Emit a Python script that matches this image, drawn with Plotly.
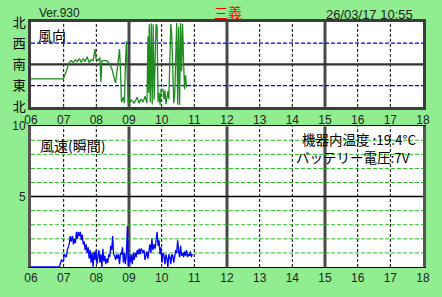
import plotly.graph_objects as go

# ---------------- data ----------------
hour_ticks = list(range(6, 19))
hour_labels = ["%02d" % h for h in hour_ticks]

dir_tickvals = [0, 90, 180, 270, 360]
dir_ticktext = ["北", "東", "南", "西", "北"]

spd_tickvals = [5, 10]
spd_ticktext = ["5", "10"]

# wind direction (degrees, 0 = north at bottom, 360 = north at top)
dir_time = [6.00, 6.96, 7.02, 7.11, 7.17, 7.23, 7.30, 7.36, 7.42, 7.48, 7.54, 7.60, 7.66, 7.72,
            7.78, 7.84, 7.90, 7.96, 7.99, 8.05, 8.11, 8.14, 8.17, 8.23, 8.32, 8.38, 8.47, 8.56,
            8.59, 8.65, 8.71, 8.74, 8.77, 8.83, 8.86, 8.89, 8.92, 8.95, 8.98, 9.07, 9.16, 9.25,
            9.31, 9.37, 9.43, 9.49, 9.55, 9.58, 9.60, 9.62, 9.65, 9.68, 9.71, 9.74, 9.77, 9.80,
            9.83, 9.86, 9.89, 9.92, 9.95,
            9.98, 10.04, 10.07, 10.10, 10.13, 10.19, 10.22, 10.25, 10.28, 10.31, 10.34, 10.37,
            10.40, 10.43, 10.46, 10.49, 10.52, 10.55, 10.58, 10.61, 10.64, 10.67, 10.70, 10.73,
            10.76]
dir_deg = [119, 119, 127, 164, 188, 196, 188, 200, 192, 205, 188, 205, 192, 213,
           188, 200, 196, 245, 205, 196, 209, 106, 196, 196, 196, 188, 164, 115,
           102, 172, 245, 155, 20, 41, 16, 180, 278, 115, 12, 29, 16, 41,
           16, 33, 20, 45, 16, 300, 60, 350, 20, 355, 10, 350, 30, 200,
           352, 340, 20, 60, 8,
           74, 74, 33, 70, 12, 66, 33, 217, 352, 300, 196, 16,
           53, 258, 356, 10, 340, 8, 356, 150, 352, 196, 74, 135,
           82]

# instantaneous wind speed (m/s)
spd_time = [6.00, 6.87, 6.93, 6.99, 7.02, 7.08, 7.11, 7.17, 7.20, 7.23, 7.27, 7.30, 7.33, 7.36,
            7.39, 7.42, 7.45, 7.48, 7.51, 7.54, 7.57, 7.60, 7.63, 7.66, 7.69, 7.72, 7.75, 7.78,
            7.81, 7.84, 7.87, 7.90, 7.93, 7.96, 7.99, 8.02, 8.05, 8.08, 8.11, 8.14, 8.17, 8.20,
            8.23, 8.26, 8.29, 8.32, 8.35, 8.38, 8.41, 8.44, 8.47, 8.50, 8.53, 8.56, 8.59, 8.62,
            8.65, 8.68, 8.71, 8.74, 8.77, 8.80, 8.83, 8.86, 8.89, 8.92, 8.95, 8.98, 9.01, 9.04,
            9.07, 9.10, 9.13, 9.16, 9.19, 9.22, 9.25, 9.28, 9.31, 9.34, 9.37, 9.40, 9.43, 9.46,
            9.49, 9.52, 9.55, 9.58, 9.61, 9.64, 9.67, 9.70, 9.73, 9.76, 9.80, 9.83, 9.86, 9.89,
            9.92, 9.95, 9.98, 10.01, 10.04, 10.07, 10.10, 10.13, 10.16, 10.19, 10.22, 10.25,
            10.28, 10.31, 10.34, 10.37, 10.40, 10.43, 10.46, 10.49, 10.52, 10.55, 10.58, 10.61,
            10.64, 10.67, 10.70, 10.73, 10.76, 10.79, 10.82, 10.85, 10.88, 10.91, 10.94]
spd_val = [0.0, 0.0, 0.5, 0.4, 0.9, 0.7, 1.2, 1.6, 2.2, 1.8, 2.2, 1.6, 2.0, 1.7,
           2.5, 2.0, 2.5, 2.2, 2.5, 1.9, 2.3, 1.6, 1.8, 1.2, 1.6, 1.0, 1.4, 0.6,
           1.2, 0.3, 1.0, 0.0, 1.1, 0.5, 1.2, 0.2, 0.8, 1.2, 0.3, 0.9, 0.0, 1.3,
           0.4, 0.8, 0.2, 0.6, 0.3, 0.9, 0.7, 1.5, 1.2, 2.2, 0.9, 0.8, 0.5, 0.9,
           0.6, 0.9, 0.2, 1.0, 0.9, 1.4, 0.3, 1.0, 0.2, 0.9, 2.9, 0.1, 0.8, 0.3,
           0.9, 0.2, 1.0, 0.5, 1.0, 0.7, 1.2, 0.9, 1.3, 0.9, 1.3, 1.2, 1.0, 1.2,
           0.5, 0.8, 1.1, 0.6, 1.2, 1.6, 1.0, 2.0, 1.2, 1.6, 1.3, 2.1, 2.5, 1.5,
           1.9, 0.9, 1.4, 0.3, 1.0, 0.8, 0.2, 0.9, 0.6, 0.0, 0.9, 0.7,
           0.2, 0.9, 0.8, 0.3, 0.9, 1.2, 1.0, 1.9, 1.1, 0.7, 1.5, 0.8,
           1.0, 0.7, 1.1, 0.8, 1.2, 0.7, 0.9, 0.8, 1.1, 0.7, 0.9]

station = "三義"
version = "Ver.930"
stamp = "26/03/17 10:55"
dir_title = "風向"
spd_title = "風速(瞬間)"
temp_text = "機器内温度 :19.4°C"
batt_text = "バッテリー電圧:7V"

# ---------------- layout helpers ----------------
W, H = 442, 297
L, R, T, B = 29, 15, 20, 23
PW, PH = W - L - R, H - T - B


def fx(x):
    return (x - L) / PW


def fy(y):
    return 1 - (y - T) / PH


FONT = "Liberation Sans, Arial, Noto Sans CJK JP, sans-serif"
JFONT = "Noto Sans CJK JP, sans-serif"

fig = go.Figure()
fig.add_trace(go.Scatter(x=dir_time, y=dir_deg, xaxis="x", yaxis="y", mode="lines",
                         line=dict(color="#1e8c1e", width=1.3), hoverinfo="skip"))
fig.add_trace(go.Scatter(x=spd_time, y=spd_val, xaxis="x2", yaxis="y2", mode="lines",
                         line=dict(color="#0000ff", width=1.3), hoverinfo="skip"))

shapes = []
# vertical grid lines
for h in hour_ticks[1:-1]:
    major = (h % 3 == 0)
    for xr, yr, y0, y1 in (("x", "y", 0, 360), ("x2", "y2", 0, 10)):
        if major:
            line = dict(color="#4a4a4a", width=3)
        else:
            line = dict(color="black", width=1, dash="3px,2px")
        shapes.append(dict(type="line", xref=xr, yref=yr, x0=h, x1=h, y0=y0, y1=y1,
                           line=line, layer="below"))
# horizontal grid, direction
for v in (90, 270):
    shapes.append(dict(type="line", xref="x", yref="y", x0=6, x1=18, y0=v, y1=v,
                       line=dict(color="#0000ee", width=1.2, dash="4px,2px"), layer="below"))
shapes.append(dict(type="line", xref="x", yref="y", x0=6, x1=18, y0=180, y1=180,
                   line=dict(color="#303030", width=2.2), layer="below"))
# horizontal grid, speed
for v in (1, 2, 3, 4, 6, 7, 8, 9):
    shapes.append(dict(type="line", xref="x2", yref="y2", x0=6, x1=18, y0=v, y1=v,
                       line=dict(color="#22bb22", width=1, dash="4px,2px"), layer="below"))
shapes.append(dict(type="line", xref="x2", yref="y2", x0=6, x1=18, y0=5, y1=5,
                   line=dict(color="black", width=1.5), layer="below"))

tickfont = dict(family=FONT, size=12, color="#222222")

fig.update_layout(
    width=W, height=H,
    margin=dict(l=L, r=R, t=T, b=B),
    paper_bgcolor="#90ee90",
    plot_bgcolor="white",
    showlegend=False,
    shapes=shapes,
    xaxis=dict(domain=[0, 1], anchor="y", range=[6, 18], tickvals=hour_ticks, ticktext=hour_labels,
               showgrid=False, zeroline=False, showline=True, mirror=True, linecolor="#3c3c3c",
               linewidth=2.5, ticks="", tickfont=tickfont),
    yaxis=dict(domain=[fy(108), 1], anchor="x", range=[0, 360], tickvals=dir_tickvals,
               ticktext=dir_ticktext, showgrid=False, zeroline=False, showline=True, mirror=True,
               linecolor="#3c3c3c", linewidth=2.5, ticks="",
               tickfont=dict(family=JFONT, size=13, color="black")),
    xaxis2=dict(domain=[0, 1], anchor="y2", range=[6, 18], tickvals=hour_ticks, ticktext=hour_labels,
                showgrid=False, zeroline=False, showline=True, mirror=True, linecolor="black",
                linewidth=1, ticks="", tickfont=tickfont),
    yaxis2=dict(domain=[0, fy(128)], anchor="x2", range=[0, 10], tickvals=spd_tickvals,
                ticktext=spd_ticktext, showgrid=False, zeroline=False, showline=True, mirror=True,
                linecolor="#555555", linewidth=3, ticks="", tickfont=tickfont),
)

ann = [
    dict(text=version, x=fx(35), y=fy(11), xanchor="left", yanchor="middle",
         font=dict(family=FONT, size=12, color="#222222")),
    dict(text=station, x=fx(229), y=fy(10), xanchor="center", yanchor="middle",
         font=dict(family=JFONT, size=14, color="#ff0000")),
    dict(text=stamp, x=fx(419), y=fy(12), xanchor="right", yanchor="middle",
         font=dict(family=FONT, size=13, color="#222222")),
    dict(text=dir_title, x=fx(34), y=fy(33), xanchor="left", yanchor="middle",
         font=dict(family=JFONT, size=14, color="black")),
    dict(text=spd_title, x=fx(36), y=fy(147), xanchor="left", yanchor="middle",
         font=dict(family=JFONT, size=14, color="black")),
    dict(text=temp_text, x=fx(302), y=fy(141), xanchor="left", yanchor="middle",
         font=dict(family=JFONT, size=13.5, color="black")),
    dict(text=batt_text, x=fx(296), y=fy(160), xanchor="left", yanchor="middle",
         font=dict(family=JFONT, size=13.5, color="black")),
]
for a in ann:
    a.update(xref="paper", yref="paper", showarrow=False)
fig.update_layout(annotations=ann)

fig.write_html("out.html")
